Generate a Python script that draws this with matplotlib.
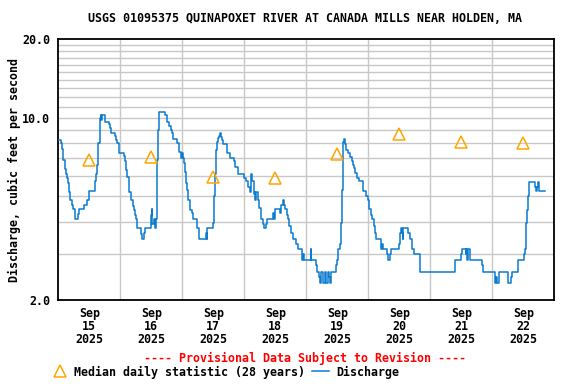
import matplotlib
matplotlib.use("Agg")
import matplotlib.pyplot as plt
import matplotlib.dates as mdates
from matplotlib.ticker import FixedLocator, NullFormatter, NullLocator
from matplotlib.lines import Line2D
import numpy as np
from datetime import datetime, timedelta

title = "USGS 01095375 QUINAPOXET RIVER AT CANADA MILLS NEAR HOLDEN, MA"
ylabel = "Discharge, cubic feet per second"

# Discharge readings: hours since 2025-09-15 00:00, value (cfs)
flow_hours = [0, 1.0, 1.4, 1.7, 1.9, 2.6, 3.0, 3.2, 3.6, 4.0, 4.6, 5.3, 5.8, 6.6, 7.5, 7.9,
              10.1, 11.0, 11.9, 14.1, 14.5, 15.0, 15.4, 16.0, 16.4, 16.6, 16.9, 18.2, 19.7,
              20.1, 20.5, 21.8, 22.3, 22.7, 23.6, 25.3, 25.7, 26.2, 26.7, 27.2, 27.5, 28.0,
              28.8, 29.2, 29.5, 30.1, 30.6, 32.0, 32.4, 33.3, 33.7, 35.7, 36.1, 36.4, 37.0,
              37.3, 37.7, 38.1, 38.4, 39.1, 41.4, 42.2, 42.7, 43.5, 43.9, 44.5, 46.1, 46.8,
              47.6,
              48.0, 48.4, 48.6, 49.0, 49.4, 49.9, 50.3, 51.0, 51.9, 52.3, 53.8, 54.5, 57.2,
              57.4, 57.6, 57.7, 60.0, 60.4, 60.8, 61.0, 61.3, 61.7, 62.1, 62.7, 63.1, 63.5,
              63.9, 65.2, 66.5, 68.0, 68.4, 69.7, 72.0, 72.5, 73.3, 74.1, 74.7, 75.1, 75.6,
              76.0, 76.3, 76.6, 77.4, 77.8, 78.4, 79.1, 79.7, 80.4, 80.9, 83.0, 83.6, 84.0,
              85.8, 86.2, 86.8, 87.3, 87.8, 88.4, 88.9, 89.4, 90.1, 90.7, 92.2, 92.9, 94.2,
              94.4, 94.6, 95.1,
              97.7, 97.9, 99.6, 100.0, 100.9, 101.3, 101.5, 102.5, 103.1, 103.7, 104.4,
              104.8, 105.2, 105.7, 107.6, 108.0, 108.4, 108.9, 109.3, 109.7, 110.1, 110.3,
              110.7, 111.1, 111.5, 112.3, 112.9, 113.5, 114.1, 114.4, 114.8, 115.7, 116.4,
              118.1, 119.3, 119.9, 120.4, 120.9, 121.5, 122.2, 122.7, 123.1, 124.8, 125.0,
              125.3, 125.6, 126.8, 127.4, 127.8, 128.5, 128.9, 131.9, 132.3, 132.5, 133.2,
              133.4, 133.6, 135.4, 136.2, 136.8, 137.7, 140.0, 140.2,
              153.7, 156.0, 156.4, 157.7, 157.9, 158.2, 158.5, 159.2, 164.1, 164.5, 168.9,
              169.2, 169.5, 169.9, 170.4, 174.1, 175.1, 175.7, 177.9, 180.2, 180.8, 181.2,
              181.6, 182.0, 182.3, 184.5, 184.9, 185.3, 185.7, 186.0, 188.5]
flow_values = [8.25, 8.0, 7.6, 7.3, 6.9, 6.35, 6.1, 5.85, 5.6, 5.2, 4.84, 4.63, 4.45, 4.08, 4.27, 4.45,
               4.63, 4.84, 5.25, 5.7, 6.1, 6.6, 8.0, 10.0, 10.25, 9.8, 10.25, 9.66, 9.45,
               9.1, 8.72, 8.5, 8.22, 8.0, 7.35, 7.15, 6.8, 6.3, 5.95, 5.44, 5.2, 4.84,
               4.6, 4.43, 4.24, 4.08, 3.77, 3.58, 3.42, 3.6, 3.77, 4.24, 4.45, 3.92, 4.08,
               3.77, 4.08, 6.9, 9.0, 10.55, 10.25, 9.66, 9.3, 9.0, 8.72, 8.26, 8.0, 7.4,
               7.0,
               7.35, 7.0, 6.7, 6.2, 5.6, 5.28, 4.84, 4.43, 4.3, 4.08, 3.77, 3.42, 3.6,
               3.42, 3.6, 3.77, 3.95, 5.0, 6.1, 7.5, 8.1, 8.35, 8.5, 8.72, 8.46, 8.2,
               7.95, 7.35, 7.0, 6.8, 6.5, 6.1, 5.85, 5.7, 5.44, 5.2, 6.1, 5.7, 5.1,
               5.2, 4.84, 5.2, 4.84, 4.5, 4.1, 3.92, 3.77, 3.92, 4.08, 4.3, 4.08, 4.45,
               4.3, 4.63, 4.84, 4.63, 4.45, 4.24, 4.08, 3.83, 3.6, 3.42, 3.27, 3.13, 3.0,
               2.86, 3.0, 2.86,
               3.13, 2.86, 2.72, 2.57, 2.46, 2.33, 2.57, 2.33, 2.57, 2.33, 2.57,
               2.46, 2.33, 2.57, 2.72, 2.86, 3.13, 3.27, 3.95, 5.28, 6.6, 8.1,
               8.26, 7.95, 7.55, 7.35, 7.1, 6.8, 6.6, 6.4, 6.15, 5.9, 5.7,
               5.25, 5.0, 4.84, 4.45, 4.24, 4.08, 3.83, 3.6, 3.42, 3.27, 3.13,
               3.27, 3.13, 3.13, 3.0, 2.86, 3.0, 3.13, 3.27, 3.6, 3.77, 3.6,
               3.42, 3.77, 3.6, 3.42, 3.13, 3.0, 2.86, 2.57,
               2.86, 3.0, 3.13, 3.0, 3.13, 2.86, 3.13, 2.86, 2.72, 2.57, 2.46,
               2.33, 2.46, 2.33, 2.57, 2.33, 2.46, 2.57, 2.86, 3.0, 3.13, 3.95,
               4.43, 5.0, 5.65, 5.42, 5.25, 5.42, 5.65, 5.25, 5.25]

# Median daily statistic (28 years), one per day at noon
median_days = [15, 16, 17, 18, 19, 20, 21, 22]
median_values = [6.9, 7.07, 5.94, 5.86, 7.26, 8.67, 8.05, 7.98]

tick_days = [15, 16, 17, 18, 19, 20, 21, 22]
ytick_vals = [2.0, 10.0, 20.0]
ytick_labels = ["2.0", "10.0", "20.0"]

LINE_C = "#0a7bcf"
MED_C = "#ffa500"
FONT = "DejaVu Sans Mono"
FS = 8.4

base = datetime(2025, 9, 15)
t_flow = [base + timedelta(hours=h) for h in flow_hours]
t_med = [datetime(2025, 9, d, 12) for d in median_days]

fig = plt.figure(figsize=(5.76, 3.84), dpi=100)
ax = fig.add_axes([58.3 / 576, 1 - 300 / 384, (554.3 - 58.3) / 576, (300 - 39.3) / 384])

ax.plot(t_flow, flow_values, color=LINE_C, lw=1.1, drawstyle="steps-post", zorder=3)
ax.plot(t_med, median_values, linestyle="none", marker="^", markersize=8.5,
        markerfacecolor="none", markeredgecolor=MED_C, markeredgewidth=1.1, zorder=4)

ax.set_yscale("log")
ax.set_ylim(2.0, 20.0)
ax.set_xlim(datetime(2025, 9, 15), datetime(2025, 9, 23))

# grid
for v in range(3, 20):
    ax.axhline(v, color="#c8c8c8", lw=1.0, zorder=1)
for d in range(16, 23):
    ax.axvline(datetime(2025, 9, d), color="#c8c8c8", lw=1.0, zorder=1)

ax.yaxis.set_major_locator(FixedLocator(ytick_vals))
ax.yaxis.set_minor_locator(NullLocator())
ax.yaxis.set_minor_formatter(NullFormatter())
ax.set_yticklabels(ytick_labels, fontfamily=FONT, fontweight="bold", fontsize=FS)
ax.set_xticks([datetime(2025, 9, d, 12) for d in tick_days])
ax.set_xticklabels([f"Sep\n{d}\n2025" for d in tick_days], fontfamily=FONT,
                   fontweight="bold", fontsize=FS, linespacing=1.02)
ax.tick_params(axis="y", length=0, pad=6)
ax.tick_params(axis="x", length=0, pad=5)
for s in ax.spines.values():
    s.set_linewidth(1.3)
    s.set_color("black")

ax.set_ylabel(ylabel, fontfamily=FONT, fontweight="bold", fontsize=FS, labelpad=1)

fig.text(305 / 576, 1 - 19 / 384, title, ha="center", va="center",
         fontfamily=FONT, fontweight="bold", fontsize=FS)
fig.text(305 / 576, 1 - 358 / 384, "---- Provisional Data Subject to Revision ----",
         ha="center", va="center", color="red", fontfamily=FONT, fontweight="bold", fontsize=FS)

# legend
fig.add_artist(Line2D([60 / 576], [1 - 371 / 384], marker="^", markersize=8.5,
                      markerfacecolor="none", markeredgecolor=MED_C, markeredgewidth=1.1,
                      linestyle="none", transform=fig.transFigure))
fig.text(74 / 576, 1 - 372 / 384, "Median daily statistic (28 years)", ha="left", va="center",
         fontfamily=FONT, fontweight="bold", fontsize=FS)
fig.add_artist(Line2D([312 / 576, 329 / 576], [1 - 371 / 384, 1 - 371 / 384], color=LINE_C,
                      lw=1.1, transform=fig.transFigure))
fig.text(336 / 576, 1 - 372 / 384, "Discharge", ha="left", va="center",
         fontfamily=FONT, fontweight="bold", fontsize=FS)

fig.savefig("out.png", dpi=100)
